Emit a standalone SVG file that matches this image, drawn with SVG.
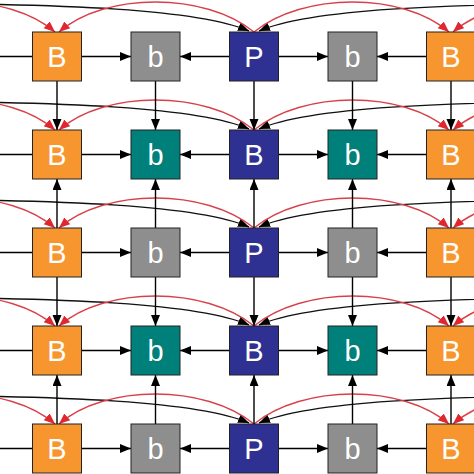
<svg xmlns="http://www.w3.org/2000/svg" width="474" height="474" viewBox="0 0 474 474">
<defs>
<marker id="ab" markerWidth="12" markerHeight="10" refX="11" refY="4.5" orient="auto" markerUnits="userSpaceOnUse"><path d="M0,0 L11,4.5 L0,9 Z" fill="#000"/></marker>
<marker id="ar" markerWidth="12" markerHeight="10" refX="11" refY="4.5" orient="auto" markerUnits="userSpaceOnUse"><path d="M0,0 L11,4.5 L0,9 Z" fill="#E0262E"/></marker>
<style>
.box{stroke:#222;stroke-width:1}
.o{fill:#F7962F}.g{fill:#8E8E8E}.p{fill:#2E3192}.t{fill:#00807A}
.lbl{font-family:"Liberation Sans",Arial,sans-serif;font-size:29px;fill:#FFFFFF;text-anchor:middle}
.lk{fill:none;stroke:#000;stroke-width:1.4;marker-end:url(#ab)}
.ln{fill:none;stroke:#000;stroke-width:1.4}
.rc{fill:none;stroke:#D9414A;stroke-width:1.4;marker-end:url(#ar)}
.bc{fill:none;stroke:#111;stroke-width:1.4;marker-end:url(#ab)}
</style>
</defs>
<rect width="474" height="474" fill="#FFFFFF"/>
<g id="connectors">
<path class="bc" d="M-160,3 C80,3 200,10 249,31"/>
<path class="bc" d="M668,3 C428,3 308,10 259,31"/>
<path class="rc" d="M254,32 C205,-8 105,-8 59,32"/>
<path class="rc" d="M254,32 C303,-8 403,-8 449,32"/>
<path class="rc" d="M-140,32 C-91,-8 9,-8 55,32"/>
<path class="rc" d="M648,32 C599,-8 499,-8 453,32"/>
<path class="bc" d="M-160,101 C80,101 200,108 249,129"/>
<path class="bc" d="M668,101 C428,101 308,108 259,129"/>
<path class="rc" d="M254,130 C205,90 105,90 59,130"/>
<path class="rc" d="M254,130 C303,90 403,90 449,130"/>
<path class="rc" d="M-140,130 C-91,90 9,90 55,130"/>
<path class="rc" d="M648,130 C599,90 499,90 453,130"/>
<path class="bc" d="M-160,199 C80,199 200,206 249,227"/>
<path class="bc" d="M668,199 C428,199 308,206 259,227"/>
<path class="rc" d="M254,228 C205,188 105,188 59,228"/>
<path class="rc" d="M254,228 C303,188 403,188 449,228"/>
<path class="rc" d="M-140,228 C-91,188 9,188 55,228"/>
<path class="rc" d="M648,228 C599,188 499,188 453,228"/>
<path class="bc" d="M-160,297 C80,297 200,304 249,325"/>
<path class="bc" d="M668,297 C428,297 308,304 259,325"/>
<path class="rc" d="M254,326 C205,286 105,286 59,326"/>
<path class="rc" d="M254,326 C303,286 403,286 449,326"/>
<path class="rc" d="M-140,326 C-91,286 9,286 55,326"/>
<path class="rc" d="M648,326 C599,286 499,286 453,326"/>
<path class="bc" d="M-160,395 C80,395 200,402 249,423"/>
<path class="bc" d="M668,395 C428,395 308,402 259,423"/>
<path class="rc" d="M254,424 C205,384 105,384 59,424"/>
<path class="rc" d="M254,424 C303,384 403,384 449,424"/>
<path class="rc" d="M-140,424 C-91,384 9,384 55,424"/>
<path class="rc" d="M648,424 C599,384 499,384 453,424"/>
<path class="ln" d="M0,56.5 H32.5"/>
<path class="lk" d="M81.5,56.5 H131"/>
<path class="lk" d="M229.5,56.5 H180"/>
<path class="lk" d="M278.5,56.5 H328"/>
<path class="lk" d="M426.5,56.5 H377"/>
<path class="ln" d="M0,154.5 H32.5"/>
<path class="lk" d="M81.5,154.5 H131"/>
<path class="lk" d="M229.5,154.5 H180"/>
<path class="lk" d="M278.5,154.5 H328"/>
<path class="lk" d="M426.5,154.5 H377"/>
<path class="ln" d="M0,252.5 H32.5"/>
<path class="lk" d="M81.5,252.5 H131"/>
<path class="lk" d="M229.5,252.5 H180"/>
<path class="lk" d="M278.5,252.5 H328"/>
<path class="lk" d="M426.5,252.5 H377"/>
<path class="ln" d="M0,350.5 H32.5"/>
<path class="lk" d="M81.5,350.5 H131"/>
<path class="lk" d="M229.5,350.5 H180"/>
<path class="lk" d="M278.5,350.5 H328"/>
<path class="lk" d="M426.5,350.5 H377"/>
<path class="ln" d="M0,448.5 H32.5"/>
<path class="lk" d="M81.5,448.5 H131"/>
<path class="lk" d="M229.5,448.5 H180"/>
<path class="lk" d="M278.5,448.5 H328"/>
<path class="lk" d="M426.5,448.5 H377"/>
<path class="lk" d="M57,81 V130"/>
<path class="lk" d="M155.5,81 V130"/>
<path class="lk" d="M254,81 V130"/>
<path class="lk" d="M352.5,81 V130"/>
<path class="lk" d="M451,81 V130"/>
<path class="lk" d="M57,228 V179"/>
<path class="lk" d="M155.5,228 V179"/>
<path class="lk" d="M254,228 V179"/>
<path class="lk" d="M352.5,228 V179"/>
<path class="lk" d="M451,228 V179"/>
<path class="lk" d="M57,277 V326"/>
<path class="lk" d="M155.5,277 V326"/>
<path class="lk" d="M254,277 V326"/>
<path class="lk" d="M352.5,277 V326"/>
<path class="lk" d="M451,277 V326"/>
<path class="lk" d="M57,424 V375"/>
<path class="lk" d="M155.5,424 V375"/>
<path class="lk" d="M254,424 V375"/>
<path class="lk" d="M352.5,424 V375"/>
<path class="lk" d="M451,424 V375"/>
</g>
<g id="r1c1"><rect class="box o" x="32.5" y="32" width="49" height="49"/><text class="lbl" x="57" y="67">B</text></g>
<g id="r1c2"><rect class="box g" x="131" y="32" width="49" height="49"/><text class="lbl" x="155.5" y="67">b</text></g>
<g id="r1c3"><rect class="box p" x="229.5" y="32" width="49" height="49"/><text class="lbl" x="254" y="67">P</text></g>
<g id="r1c4"><rect class="box g" x="328" y="32" width="49" height="49"/><text class="lbl" x="352.5" y="67">b</text></g>
<g id="r1c5"><rect class="box o" x="426.5" y="32" width="49" height="49"/><text class="lbl" x="451" y="67">B</text></g>
<g id="r2c1"><rect class="box o" x="32.5" y="130" width="49" height="49"/><text class="lbl" x="57" y="165">B</text></g>
<g id="r2c2"><rect class="box t" x="131" y="130" width="49" height="49"/><text class="lbl" x="155.5" y="165">b</text></g>
<g id="r2c3"><rect class="box p" x="229.5" y="130" width="49" height="49"/><text class="lbl" x="254" y="165">B</text></g>
<g id="r2c4"><rect class="box t" x="328" y="130" width="49" height="49"/><text class="lbl" x="352.5" y="165">b</text></g>
<g id="r2c5"><rect class="box o" x="426.5" y="130" width="49" height="49"/><text class="lbl" x="451" y="165">B</text></g>
<g id="r3c1"><rect class="box o" x="32.5" y="228" width="49" height="49"/><text class="lbl" x="57" y="263">B</text></g>
<g id="r3c2"><rect class="box g" x="131" y="228" width="49" height="49"/><text class="lbl" x="155.5" y="263">b</text></g>
<g id="r3c3"><rect class="box p" x="229.5" y="228" width="49" height="49"/><text class="lbl" x="254" y="263">P</text></g>
<g id="r3c4"><rect class="box g" x="328" y="228" width="49" height="49"/><text class="lbl" x="352.5" y="263">b</text></g>
<g id="r3c5"><rect class="box o" x="426.5" y="228" width="49" height="49"/><text class="lbl" x="451" y="263">B</text></g>
<g id="r4c1"><rect class="box o" x="32.5" y="326" width="49" height="49"/><text class="lbl" x="57" y="361">B</text></g>
<g id="r4c2"><rect class="box t" x="131" y="326" width="49" height="49"/><text class="lbl" x="155.5" y="361">b</text></g>
<g id="r4c3"><rect class="box p" x="229.5" y="326" width="49" height="49"/><text class="lbl" x="254" y="361">B</text></g>
<g id="r4c4"><rect class="box t" x="328" y="326" width="49" height="49"/><text class="lbl" x="352.5" y="361">b</text></g>
<g id="r4c5"><rect class="box o" x="426.5" y="326" width="49" height="49"/><text class="lbl" x="451" y="361">B</text></g>
<g id="r5c1"><rect class="box o" x="32.5" y="424" width="49" height="49"/><text class="lbl" x="57" y="459">B</text></g>
<g id="r5c2"><rect class="box g" x="131" y="424" width="49" height="49"/><text class="lbl" x="155.5" y="459">b</text></g>
<g id="r5c3"><rect class="box p" x="229.5" y="424" width="49" height="49"/><text class="lbl" x="254" y="459">P</text></g>
<g id="r5c4"><rect class="box g" x="328" y="424" width="49" height="49"/><text class="lbl" x="352.5" y="459">b</text></g>
<g id="r5c5"><rect class="box o" x="426.5" y="424" width="49" height="49"/><text class="lbl" x="451" y="459">B</text></g>
</svg>
